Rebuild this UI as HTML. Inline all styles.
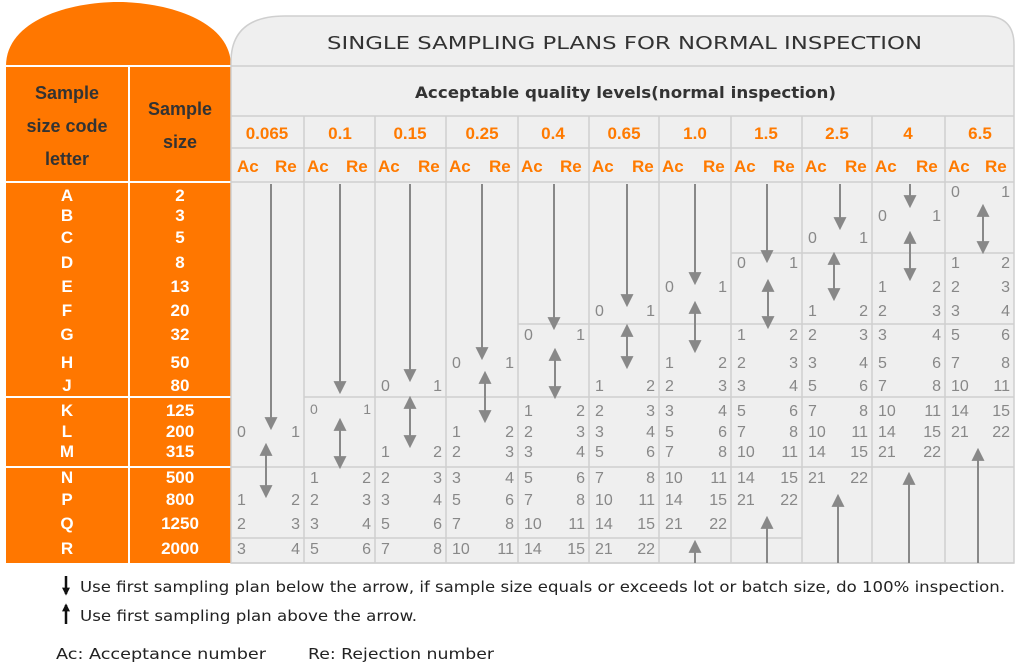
<!DOCTYPE html>
<html><head><meta charset="utf-8"><style>
html,body{margin:0;padding:0;background:#fff;}
svg{display:block;font-family:"Liberation Sans","DejaVu Sans",sans-serif;}
.dv{font-family:"DejaVu Sans","Liberation Sans",sans-serif;}
</style></head><body>
<svg width="1024" height="667" viewBox="0 0 1024 667" xmlns="http://www.w3.org/2000/svg">
<defs>
<marker id="ah" viewBox="0 0 10 10" refX="8" refY="5" markerWidth="8" markerHeight="8" orient="auto-start-reverse" markerUnits="userSpaceOnUse">
<path d="M0,0 L10,5 L0,10 z" fill="#111"/></marker>
<marker id="h" viewBox="0 0 12 12" refX="10" refY="6" markerWidth="13" markerHeight="13" orient="auto-start-reverse" markerUnits="userSpaceOnUse">
<path d="M0,0 L12,6 L0,12 z" fill="#888"/></marker>
</defs>
<path d="M6,66 C6,20 70,2 118,2 C166,2 231,20 231,66 L231,563 L6,563 Z" fill="#ff7700"/>
<g stroke="#fff" stroke-width="2">
<line x1="6" y1="66" x2="231" y2="66"/><line x1="6" y1="182" x2="231" y2="182"/>
<line x1="6" y1="397" x2="231" y2="397"/><line x1="6" y1="467" x2="231" y2="467"/>
<line x1="129" y1="66" x2="129" y2="563"/>
</g>
<g font-weight="bold" font-size="18" fill="#333" text-anchor="middle">
<text x="67" y="99">Sample</text><text x="67" y="132">size code</text><text x="67" y="165">letter</text>
<text x="180" y="115">Sample</text><text x="180" y="148">size</text>
</g>
<g font-weight="bold" font-size="17" fill="#fff" text-anchor="middle">
<text x="67" y="201">A</text><text x="180" y="201">2</text>
<text x="67" y="221">B</text><text x="180" y="221">3</text>
<text x="67" y="243">C</text><text x="180" y="243">5</text>
<text x="67" y="268">D</text><text x="180" y="268">8</text>
<text x="67" y="292">E</text><text x="180" y="292">13</text>
<text x="67" y="316">F</text><text x="180" y="316">20</text>
<text x="67" y="340">G</text><text x="180" y="340">32</text>
<text x="67" y="368">H</text><text x="180" y="368">50</text>
<text x="67" y="391">J</text><text x="180" y="391">80</text>
<text x="67" y="416">K</text><text x="180" y="416">125</text>
<text x="67" y="437">L</text><text x="180" y="437">200</text>
<text x="67" y="457">M</text><text x="180" y="457">315</text>
<text x="67" y="483">N</text><text x="180" y="483">500</text>
<text x="67" y="505">P</text><text x="180" y="505">800</text>
<text x="67" y="529">Q</text><text x="180" y="529">1250</text>
<text x="67" y="554">R</text><text x="180" y="554">2000</text>
</g>
<path d="M231,563 L231,62 Q231,16 285,16 L985,16 Q1014,16 1014,45 L1014,563 Z" fill="#efefef" stroke="#cfcfcf" stroke-width="1.5"/>
<g stroke="#cfcfcf" stroke-width="1.5">
<line x1="231" y1="66" x2="1014" y2="66"/><line x1="231" y1="116" x2="1014" y2="116"/>
<line x1="231" y1="148" x2="1014" y2="148"/><line x1="231" y1="182" x2="1014" y2="182"/>
<line x1="731" y1="253" x2="1014" y2="253"/><line x1="518" y1="324" x2="1014" y2="324"/>
<line x1="304" y1="397" x2="1014" y2="397"/><line x1="231" y1="467" x2="1014" y2="467"/>
<line x1="231" y1="538" x2="802" y2="538"/><line x1="231" y1="563" x2="1014" y2="563"/>
<line x1="304" y1="116" x2="304" y2="563"/><line x1="375" y1="116" x2="375" y2="563"/>
<line x1="446" y1="116" x2="446" y2="563"/><line x1="518" y1="116" x2="518" y2="563"/>
<line x1="589" y1="116" x2="589" y2="563"/><line x1="659" y1="116" x2="659" y2="563"/>
<line x1="731" y1="116" x2="731" y2="563"/><line x1="802" y1="116" x2="802" y2="563"/>
<line x1="872" y1="116" x2="872" y2="563"/><line x1="945" y1="116" x2="945" y2="563"/>
</g>
<text class="dv" x="327" y="49" font-size="18" fill="#333" textLength="595" lengthAdjust="spacingAndGlyphs">SINGLE SAMPLING PLANS FOR NORMAL INSPECTION</text>
<text class="dv" x="415" y="98" font-size="16" font-weight="bold" fill="#333" textLength="421" lengthAdjust="spacingAndGlyphs">Acceptable quality levels(normal inspection)</text>
<g font-size="17" font-weight="bold" fill="#ff7a00" text-anchor="middle">
<text x="267" y="139">0.065</text><text x="340" y="139">0.1</text><text x="410" y="139">0.15</text><text x="482" y="139">0.25</text>
<text x="553" y="139">0.4</text><text x="624" y="139">0.65</text><text x="695" y="139">1.0</text><text x="766" y="139">1.5</text>
<text x="837" y="139">2.5</text><text x="908" y="139">4</text><text x="980" y="139">6.5</text>
</g>
<g font-size="17" font-weight="bold" fill="#ff7a00">
<text x="237" y="172">Ac</text><text x="275" y="172">Re</text>
<text x="307" y="172">Ac</text><text x="346" y="172">Re</text>
<text x="378" y="172">Ac</text><text x="418" y="172">Re</text>
<text x="449" y="172">Ac</text><text x="489" y="172">Re</text>
<text x="521" y="172">Ac</text><text x="560" y="172">Re</text>
<text x="592" y="172">Ac</text><text x="632" y="172">Re</text>
<text x="662" y="172">Ac</text><text x="703" y="172">Re</text>
<text x="734" y="172">Ac</text><text x="773" y="172">Re</text>
<text x="805" y="172">Ac</text><text x="845" y="172">Re</text>
<text x="875" y="172">Ac</text><text x="916" y="172">Re</text>
<text x="948" y="172">Ac</text><text x="985" y="172">Re</text>
</g>
<g font-size="16" fill="#888">
<text x="237" y="437">0</text><text x="237" y="505">1</text><text x="237" y="529">2</text><text x="237" y="554">3</text>
<text x="310" y="414" font-size="14">0</text><text x="310" y="483">1</text><text x="310" y="505">2</text><text x="310" y="529">3</text><text x="310" y="554">5</text>
<text x="381" y="391">0</text><text x="381" y="457">1</text><text x="381" y="483">2</text><text x="381" y="505">3</text><text x="381" y="529">5</text><text x="381" y="554">7</text>
<text x="452" y="368">0</text><text x="452" y="437">1</text><text x="452" y="457">2</text><text x="452" y="483">3</text><text x="452" y="505">5</text><text x="452" y="529">7</text><text x="452" y="554">10</text>
<text x="524" y="340">0</text><text x="524" y="416">1</text><text x="524" y="437">2</text><text x="524" y="457">3</text><text x="524" y="483">5</text><text x="524" y="505">7</text><text x="524" y="529">10</text><text x="524" y="554">14</text>
<text x="595" y="316">0</text><text x="595" y="391">1</text><text x="595" y="416">2</text><text x="595" y="437">3</text><text x="595" y="457">5</text><text x="595" y="483">7</text><text x="595" y="505">10</text><text x="595" y="529">14</text><text x="595" y="554">21</text>
<text x="665" y="292">0</text><text x="665" y="368">1</text><text x="665" y="391">2</text><text x="665" y="416">3</text><text x="665" y="437">5</text><text x="665" y="457">7</text><text x="665" y="483">10</text><text x="665" y="505">14</text><text x="665" y="529">21</text>
<text x="737" y="268">0</text><text x="737" y="340">1</text><text x="737" y="368">2</text><text x="737" y="391">3</text><text x="737" y="416">5</text><text x="737" y="437">7</text><text x="737" y="457">10</text><text x="737" y="483">14</text><text x="737" y="505">21</text>
<text x="808" y="243">0</text><text x="808" y="316">1</text><text x="808" y="340">2</text><text x="808" y="368">3</text><text x="808" y="391">5</text><text x="808" y="416">7</text><text x="808" y="437">10</text><text x="808" y="457">14</text><text x="808" y="483">21</text>
<text x="878" y="221">0</text><text x="878" y="292">1</text><text x="878" y="316">2</text><text x="878" y="340">3</text><text x="878" y="368">5</text><text x="878" y="391">7</text><text x="878" y="416">10</text><text x="878" y="437">14</text><text x="878" y="457">21</text>
<text x="951" y="197">0</text><text x="951" y="268">1</text><text x="951" y="292">2</text><text x="951" y="316">3</text><text x="951" y="340">5</text><text x="951" y="368">7</text><text x="951" y="391">10</text><text x="951" y="416">14</text><text x="951" y="437">21</text>
</g>
<g font-size="16" fill="#888" text-anchor="end">
<text x="300" y="437">1</text><text x="300" y="505">2</text><text x="300" y="529">3</text><text x="300" y="554">4</text>
<text x="371" y="414" font-size="14">1</text><text x="371" y="483">2</text><text x="371" y="505">3</text><text x="371" y="529">4</text><text x="371" y="554">6</text>
<text x="442" y="391">1</text><text x="442" y="457">2</text><text x="442" y="483">3</text><text x="442" y="505">4</text><text x="442" y="529">6</text><text x="442" y="554">8</text>
<text x="514" y="368">1</text><text x="514" y="437">2</text><text x="514" y="457">3</text><text x="514" y="483">4</text><text x="514" y="505">6</text><text x="514" y="529">8</text><text x="514" y="554">11</text>
<text x="585" y="340">1</text><text x="585" y="416">2</text><text x="585" y="437">3</text><text x="585" y="457">4</text><text x="585" y="483">6</text><text x="585" y="505">8</text><text x="585" y="529">11</text><text x="585" y="554">15</text>
<text x="655" y="316">1</text><text x="655" y="391">2</text><text x="655" y="416">3</text><text x="655" y="437">4</text><text x="655" y="457">6</text><text x="655" y="483">8</text><text x="655" y="505">11</text><text x="655" y="529">15</text><text x="655" y="554">22</text>
<text x="727" y="292">1</text><text x="727" y="368">2</text><text x="727" y="391">3</text><text x="727" y="416">4</text><text x="727" y="437">6</text><text x="727" y="457">8</text><text x="727" y="483">11</text><text x="727" y="505">15</text><text x="727" y="529">22</text>
<text x="798" y="268">1</text><text x="798" y="340">2</text><text x="798" y="368">3</text><text x="798" y="391">4</text><text x="798" y="416">6</text><text x="798" y="437">8</text><text x="798" y="457">11</text><text x="798" y="483">15</text><text x="798" y="505">22</text>
<text x="868" y="243">1</text><text x="868" y="316">2</text><text x="868" y="340">3</text><text x="868" y="368">4</text><text x="868" y="391">6</text><text x="868" y="416">8</text><text x="868" y="437">11</text><text x="868" y="457">15</text><text x="868" y="483">22</text>
<text x="941" y="221">1</text><text x="941" y="292">2</text><text x="941" y="316">3</text><text x="941" y="340">4</text><text x="941" y="368">6</text><text x="941" y="391">8</text><text x="941" y="416">11</text><text x="941" y="437">15</text><text x="941" y="457">22</text>
<text x="1010" y="197">1</text><text x="1010" y="268">2</text><text x="1010" y="292">3</text><text x="1010" y="316">4</text><text x="1010" y="340">6</text><text x="1010" y="368">8</text><text x="1010" y="391">11</text><text x="1010" y="416">15</text><text x="1010" y="437">22</text>
</g>
<g stroke="#888" stroke-width="2" fill="none">
<line x1="271" y1="184" x2="271" y2="428" marker-end="url(#h)"/>
<line x1="340" y1="184" x2="340" y2="392" marker-end="url(#h)"/>
<line x1="410" y1="184" x2="410" y2="380" marker-end="url(#h)"/>
<line x1="482" y1="184" x2="482" y2="358" marker-end="url(#h)"/>
<line x1="554" y1="184" x2="554" y2="328" marker-end="url(#h)"/>
<line x1="627" y1="184" x2="627" y2="305" marker-end="url(#h)"/>
<line x1="695" y1="184" x2="695" y2="283" marker-end="url(#h)"/>
<line x1="767" y1="184" x2="767" y2="261" marker-end="url(#h)"/>
<line x1="840" y1="184" x2="840" y2="228" marker-end="url(#h)"/>
<line x1="910" y1="184" x2="910" y2="206" marker-end="url(#h)"/>
<line x1="266" y1="445" x2="266" y2="496" marker-start="url(#h)" marker-end="url(#h)"/>
<line x1="340" y1="420" x2="340" y2="467" marker-start="url(#h)" marker-end="url(#h)"/>
<line x1="410" y1="398" x2="410" y2="446" marker-start="url(#h)" marker-end="url(#h)"/>
<line x1="485" y1="373" x2="485" y2="421" marker-start="url(#h)" marker-end="url(#h)"/>
<line x1="555" y1="350" x2="555" y2="397" marker-start="url(#h)" marker-end="url(#h)"/>
<line x1="627" y1="326" x2="627" y2="367" marker-start="url(#h)" marker-end="url(#h)"/>
<line x1="695" y1="303" x2="695" y2="351" marker-start="url(#h)" marker-end="url(#h)"/>
<line x1="768" y1="281" x2="768" y2="327" marker-start="url(#h)" marker-end="url(#h)"/>
<line x1="834" y1="254" x2="834" y2="299" marker-start="url(#h)" marker-end="url(#h)"/>
<line x1="910" y1="233" x2="910" y2="279" marker-start="url(#h)" marker-end="url(#h)"/>
<line x1="983" y1="206" x2="983" y2="252" marker-start="url(#h)" marker-end="url(#h)"/>
<line x1="695" y1="563" x2="695" y2="542" marker-end="url(#h)"/>
<line x1="767" y1="563" x2="767" y2="518" marker-end="url(#h)"/>
<line x1="838" y1="563" x2="838" y2="496" marker-end="url(#h)"/>
<line x1="909" y1="563" x2="909" y2="474" marker-end="url(#h)"/>
<line x1="978" y1="563" x2="978" y2="450" marker-end="url(#h)"/>
<line x1="66" y1="576" x2="66" y2="594" stroke="#111" stroke-width="2.5" marker-end="url(#ah)"/>
<line x1="66" y1="624" x2="66" y2="605" stroke="#111" stroke-width="2.5" marker-end="url(#ah)"/>
</g>
<g class="dv" font-size="15" fill="#222">
<text x="80" y="592" textLength="925" lengthAdjust="spacingAndGlyphs">Use first sampling plan below the arrow, if sample size equals or exceeds lot or batch size, do 100% inspection.</text>
<text x="80" y="621" textLength="337" lengthAdjust="spacingAndGlyphs">Use first sampling plan above the arrow.</text>
<text x="56" y="659" textLength="210" lengthAdjust="spacingAndGlyphs">Ac: Acceptance number</text>
<text x="308" y="659" textLength="186" lengthAdjust="spacingAndGlyphs">Re: Rejection number</text>
</g>
</svg>
</body></html>
